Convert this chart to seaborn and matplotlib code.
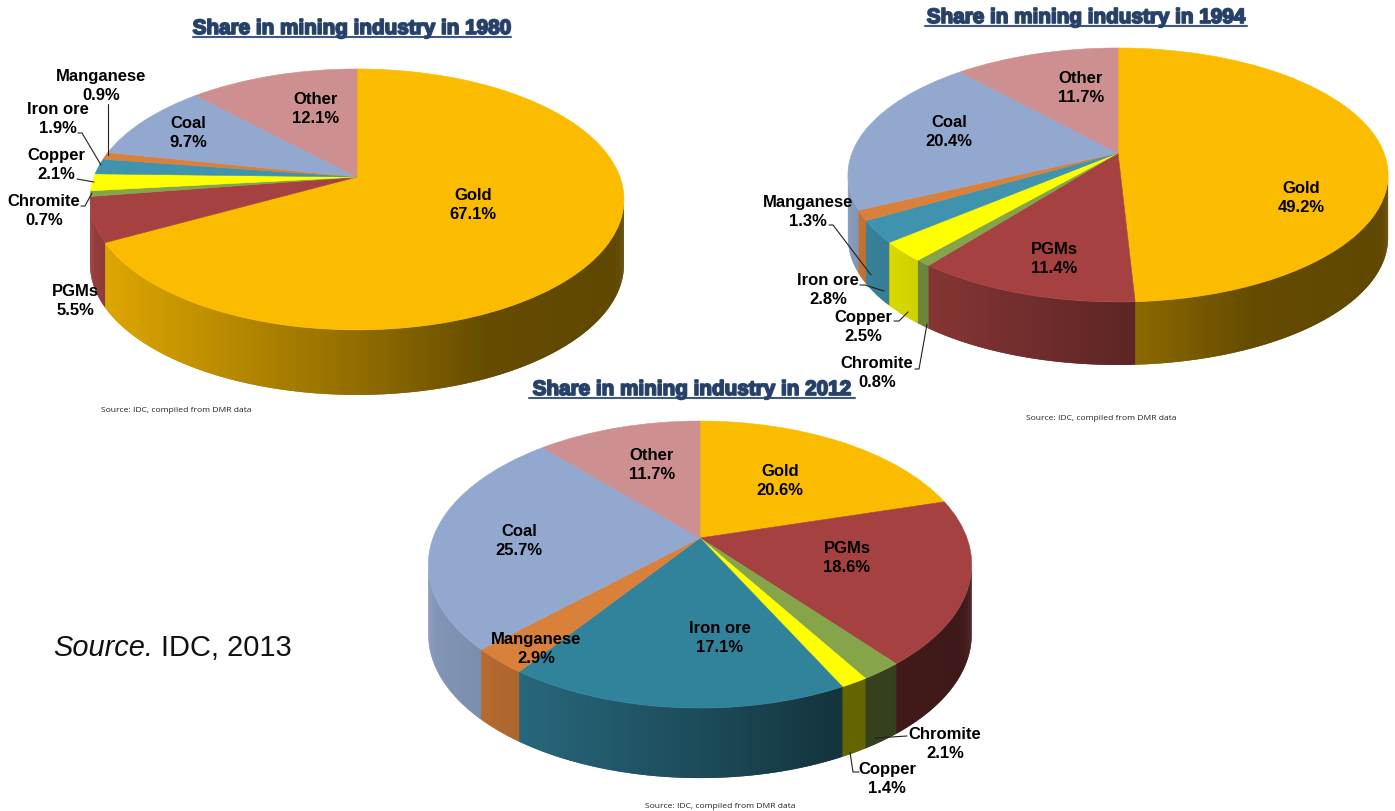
import numpy as np
import matplotlib
matplotlib.use("Agg")
import matplotlib.pyplot as plt
import matplotlib.patheffects as pe
import matplotlib.transforms as mtransforms
from matplotlib.collections import PolyCollection
from matplotlib.colors import to_rgb
from matplotlib.lines import Line2D
import seaborn as sns

# ---------- data ----------
minerals = ["Gold", "PGMs", "Chromite", "Copper", "Iron ore", "Manganese", "Coal", "Other"]
share_1980 = [67.1, 5.5, 0.7, 2.1, 1.9, 0.9, 9.7, 12.1]
share_1994 = [49.2, 11.4, 0.8, 2.5, 2.8, 1.3, 20.4, 11.7]
share_2012 = [20.6, 18.6, 2.1, 1.4, 17.1, 2.9, 25.7, 11.7]
colours = ["#FBBC00", "#A54241", "#86A44A", "#FFFF00", "#3F93AE", "#D9803A", "#93A8CE", "#CD8F8F"]
colours_2012 = ["#FBBC00", "#A54241", "#86A44A", "#FFFF00", "#31829B", "#D9803A", "#93A8CE", "#CD8F8F"]
source_note = "Source: IDC, compiled from DMR data"

# ---------- layout ----------
W_PX, H_PX = 1395, 811
sns.set_theme(style="white")
plt.rcParams["font.family"] = ["Liberation Sans", "DejaVu Sans"]
fig = plt.figure(figsize=(W_PX / 100, H_PX / 100), dpi=100, facecolor="white")


def fx(x):
    return x / W_PX


def fy(y):
    return 1 - y / H_PX


class Perspective(mtransforms.Transform):
    """Unit-circle pie plane -> tilted pie, in pixel offsets from the apex."""
    input_dims = output_dims = 2
    is_separable = False
    has_inverse = False

    def __init__(self, a, b, k):
        super().__init__()
        self.a, self.b, self.k = a, b, k

    def transform_non_affine(self, xy):
        xy = np.asarray(xy, float)
        d = 1 + self.k * xy[:, 1]
        return np.column_stack([self.a * xy[:, 0] / d, self.b * xy[:, 1] / d])


def shade(t):
    return np.interp(t, [-1, 0, 0.5, 1], [0.9, 0.58, 0.4, 0.38])


def draw_pie(values, palette, cx, cy, a, b, k, depth):
    W, H = 320, 250
    ax = fig.add_axes([fx(cx - W), fy(cy + H), 2 * W / W_PX, 2 * H / H_PX])
    wedges, _ = ax.pie(values, startangle=90, counterclock=False, colors=palette,
                       wedgeprops=dict(linewidth=0.4))
    ax.set_aspect("auto")
    ax.set_xlim(-W, W)
    ax.set_ylim(-H, H)
    ax.axis("off")
    proj = Perspective(a, b, k)
    half = a / np.sqrt(1 - k ** 2)
    polys, cols = [], []
    for w, c in zip(wedges, palette):
        w.set_transform(proj + ax.transData)
        w.set_clip_on(False)
        w.set_edgecolor(c)
        w.set_zorder(3)
        # the wall runs clockwise: walk from theta2 down to theta1
        n = max(3, int(abs(w.theta2 - w.theta1) * 2))
        th = np.radians(np.linspace(w.theta2, w.theta1, n))
        step = th[1] - th[0]
        rgb = np.array(to_rgb(c))
        for i in range(n - 1):
            if np.sin(th[i]) > -k and np.sin(th[i + 1]) > -k:
                continue
            # each strip runs under the next one, so no seams show
            seg = np.array([th[i], th[i + 1], th[i + 1] + step])
            rim = proj.transform_non_affine(np.column_stack([np.cos(seg), np.sin(seg)]))
            low = rim - [0, depth]
            polys.append(np.vstack([rim, low[::-1]]))
            cols.append(rgb * shade(rim[:2, 0].mean() / half))
    ax.add_collection(PolyCollection(polys, facecolors=cols, edgecolors="none",
                                     linewidths=0, zorder=2), autolim=False)
    return ax


draw_pie(share_1980, sns.color_palette(colours), 357, 177, 263, 126.6, 0.172, 65)
draw_pie(share_1994, sns.color_palette(colours), 1118, 153, 266, 123.2, 0.173, 63)
draw_pie(share_2012, sns.color_palette(colours_2012), 700, 538, 267, 138.6, 0.185, 70)

# ---------- labels ----------
label_pos_1980 = [(473, 205), (75, 301), (44, 211), (56, 165), (58, 119), (101, 86), (188, 133), (316, 109)]
label_pos_1994 = [(1301, 198), (1054, 259), (877, 373), (863, 327), (828, 290), (808, 212), (949, 132), (1081, 88)]
label_pos_2012 = [(780, 481), (847, 558), (945, 744), (887, 779), (720, 638), (536, 649), (519, 541), (652, 465)]

for vals, positions in ((share_1980, label_pos_1980), (share_1994, label_pos_1994), (share_2012, label_pos_2012)):
    for name, v, (x, y) in zip(minerals, vals, positions):
        fig.text(fx(x), fy(y), f"{name}\n{v}%", ha="center", va="center", fontsize=12,
                 fontweight="bold", color="black", linespacing=1.28, zorder=10)

leaders = [
    [(108, 104), (108, 155)], [(78, 133), (82, 133), (101, 165)], [(77, 179), (94, 182)],
    [(81, 206), (85, 206), (92, 193)],
    [(829, 225), (833, 225), (871, 275)], [(860, 285), (865, 285), (884, 291)],
    [(894, 321), (899, 321), (908, 312)], [(915, 369), (919, 369), (927, 324)],
    [(907, 736), (875, 738)], [(850, 752), (853, 772), (859, 772)],
]
for pts in leaders:
    xs, ys = zip(*pts)
    fig.add_artist(Line2D([fx(x) for x in xs], [fy(y) for y in ys], color="#222222", lw=0.8, zorder=9))

# ---------- titles ----------
titles = ["Share in mining industry in 1980", "Share in mining industry in 1994", "Share in mining industry in 2012"]
title_pos = [(352, 28.5, 193, 511, 36.5), (1086, 17.5, 925, 1247, 25.5), (692, 389.5, 529, 855, 398)]
for t, (x, y, x0, x1, yu) in zip(titles, title_pos):
    fig.text(fx(x), fy(y), t, ha="center", va="center", fontsize=14.9, fontweight="bold", color="#264068",
             path_effects=[pe.withStroke(linewidth=1.3, foreground="#2f4a70")], zorder=11)
    fig.add_artist(Line2D([fx(x0), fx(x1)], [fy(yu), fy(yu)], color="#3f5a82", lw=1.5, zorder=11))

# ---------- source notes ----------
for x, y in ((176, 410), (1101, 418), (720, 806)):
    fig.text(fx(x), fy(y), source_note, ha="center", va="center", fontsize=6.1,
             family="Open Sans", color="#222222")

fig.text(fx(53), fy(648), "Source.", ha="left", va="center", fontsize=20.9, style="italic", color="#111111")
fig.text(fx(161), fy(648), "IDC, 2013", ha="left", va="center", fontsize=20.9, color="#111111")

fig.savefig("out.png", dpi=100, facecolor="white")
